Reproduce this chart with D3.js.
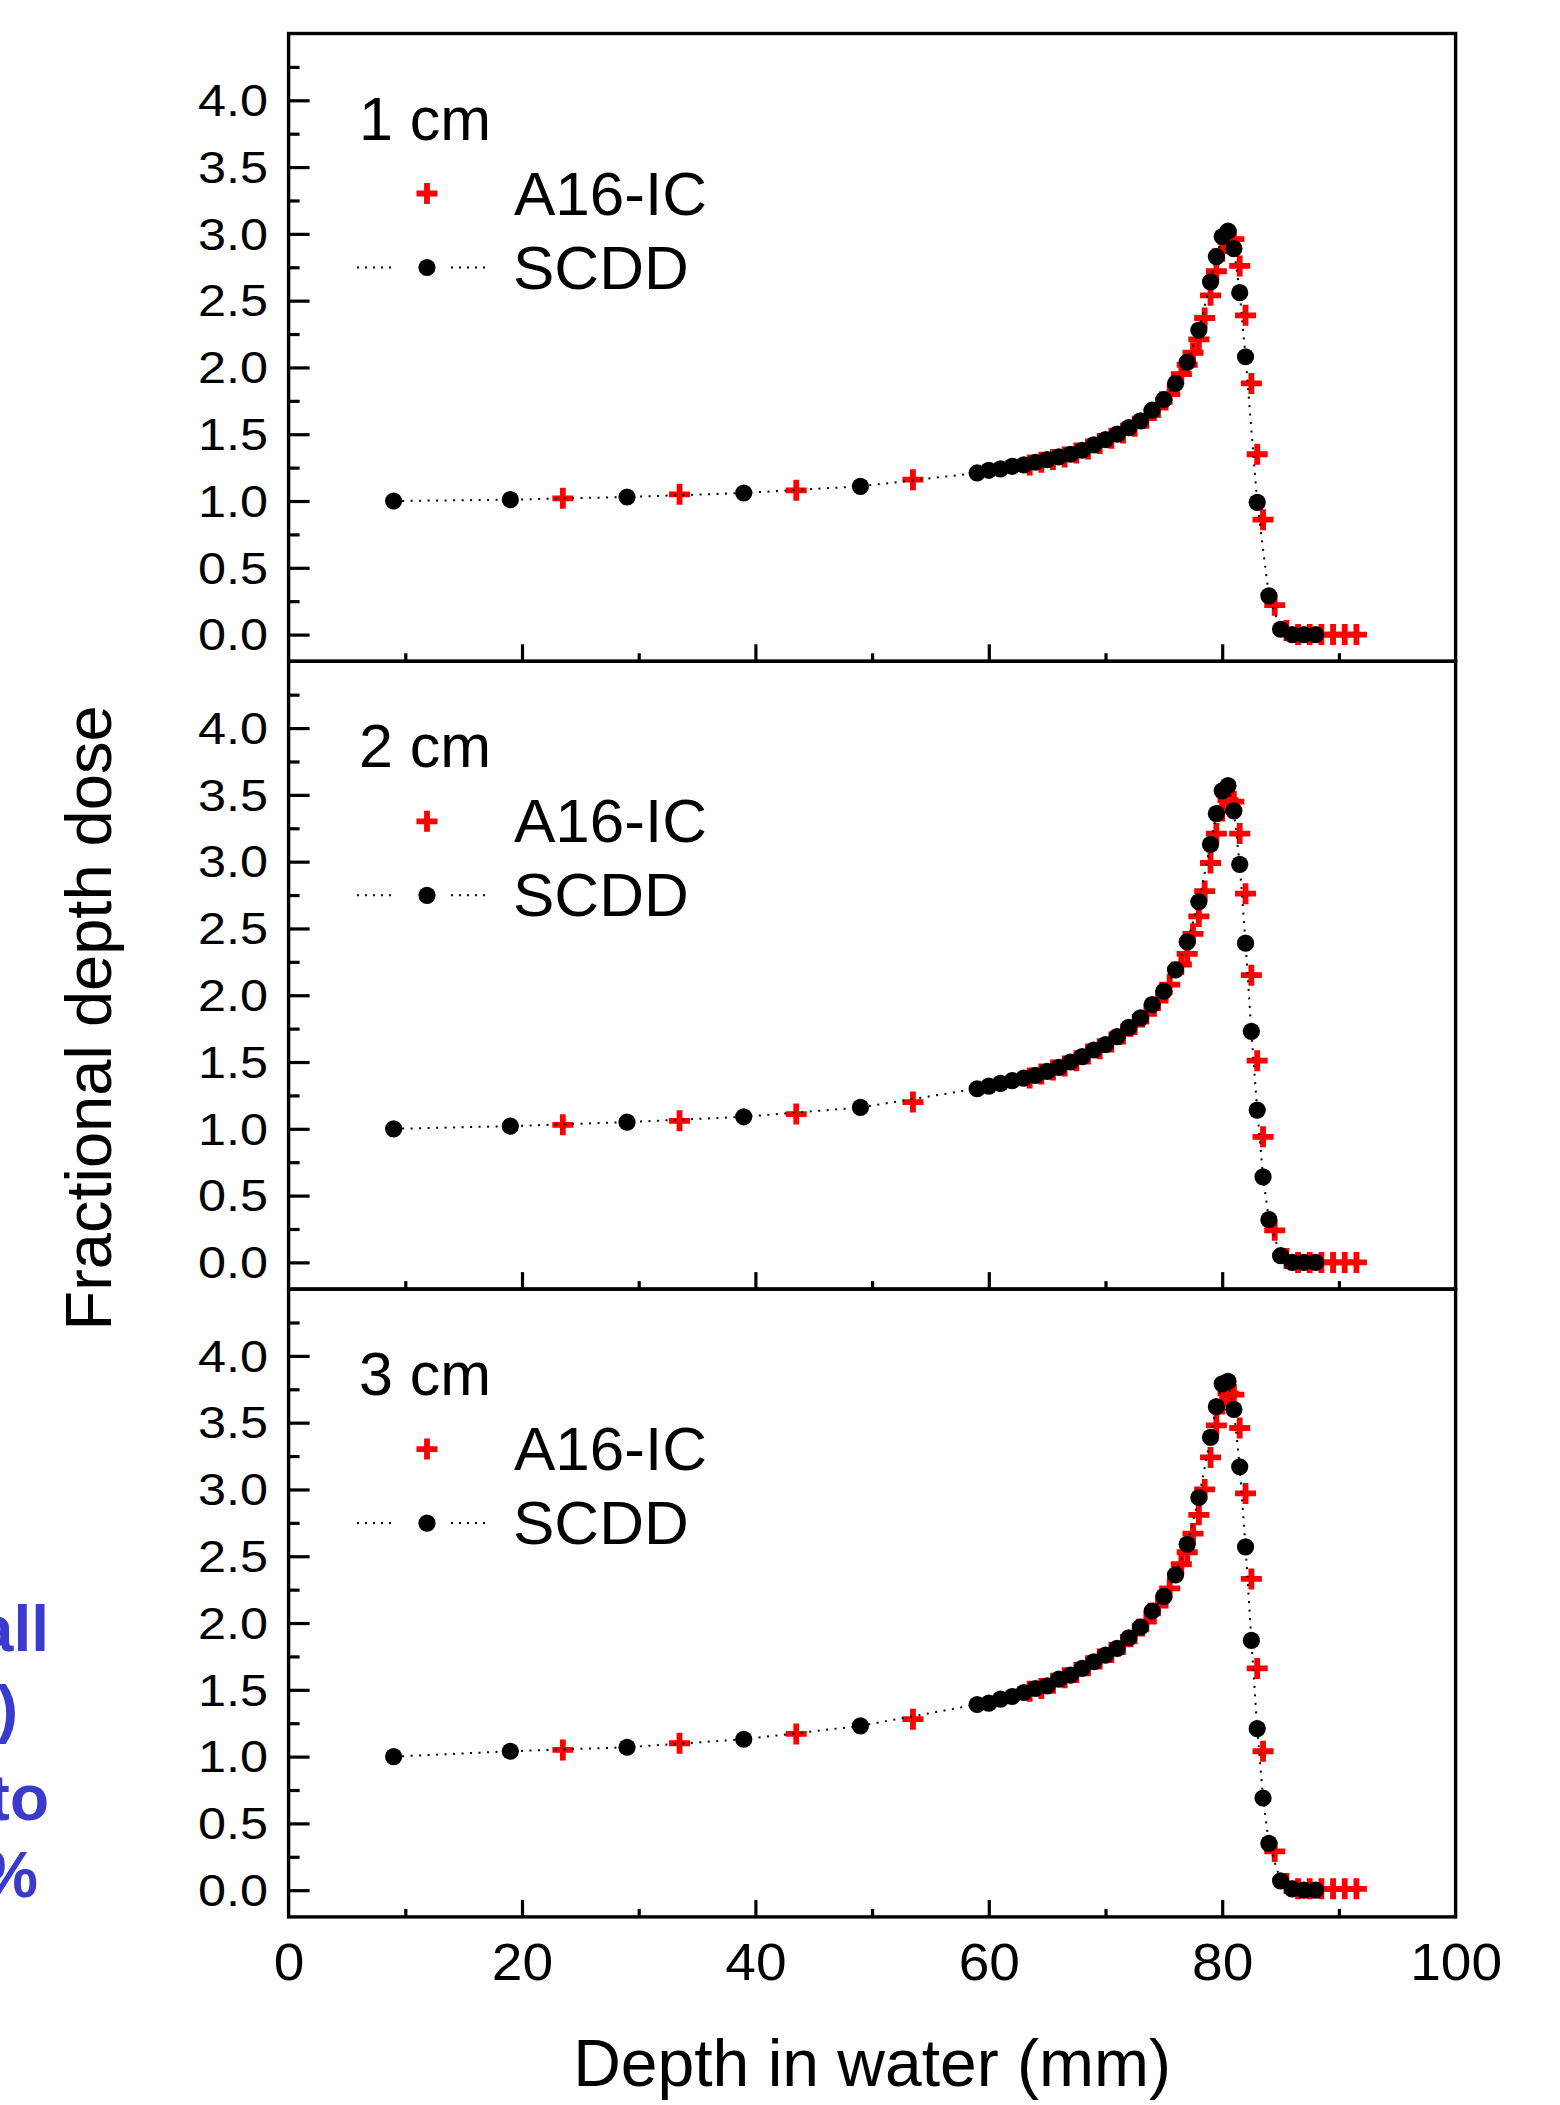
<!DOCTYPE html>
<html>
<head>
<meta charset="utf-8">
<script src="https://cdn.jsdelivr.net/npm/d3@7/dist/d3.min.js"></script>
<style>
  body { margin: 0; background: #ffffff; }
  svg { display: block; }
  text { font-family: "Liberation Sans", Arial, sans-serif; fill: #000; }
</style>
</head>
<body>
<svg id="chart" width="1560" height="2105"></svg>
<script>
// ---------------- data ----------------
const panelLabels = ["1 cm", "2 cm", "3 cm"];
const seriesNames = ["A16-IC", "SCDD"];
const xTickValues = [0, 20, 40, 60, 80, 100];
const xMinorTicks = [10, 30, 50, 70, 90];
const yTickValues = [0, 0.5, 1.0, 1.5, 2.0, 2.5, 3.0, 3.5, 4.0];
const yMinorTicks = [0.25, 0.75, 1.25, 1.75, 2.25, 2.75, 3.25, 3.75, 4.25];
const xTitle = "Depth in water (mm)";
const yTitle = "Fractional depth dose";
const sideFragments = ["all", ")", "to", "%"];

// SCDD, 1 cm
const scddDepth1 = [9, 19, 29, 39, 49, 59, 60, 61, 62, 63, 64, 65, 66, 67, 68, 69, 70, 71, 72, 73, 74, 75, 76, 77, 78, 79, 79.5, 80, 80.5, 81, 81.5, 82, 83, 84, 85, 86, 87, 88];
const scddDose1  = [1.00, 1.01, 1.03, 1.06, 1.11, 1.21, 1.23, 1.24, 1.26, 1.27, 1.29, 1.31, 1.33, 1.35, 1.38, 1.42, 1.46, 1.50, 1.55, 1.60, 1.68, 1.76, 1.88, 2.04, 2.28, 2.64, 2.83, 2.98, 3.02, 2.89, 2.56, 2.08, 0.99, 0.29, 0.04, 0.00, 0.00, 0.00];
// A16-IC, 1 cm
const a16Depth1 = [23.5, 33.5, 43.5, 53.5, 63.5, 64.5, 65.5, 66.5, 67.5, 68.5, 69.5, 70.5, 71.5, 72.5, 73.5, 74.5, 75.5, 76.5, 77, 77.5, 78, 78.5, 79, 79.5, 80, 80.5, 81, 81.5, 82, 82.5, 83, 83.5, 84.5, 85.5, 86.5, 87.5, 88.5, 89.5, 90.5, 91.5];
const a16Dose1  = [1.02, 1.05, 1.08, 1.16, 1.27, 1.29, 1.31, 1.33, 1.36, 1.39, 1.43, 1.47, 1.51, 1.56, 1.62, 1.70, 1.80, 1.95, 2.02, 2.11, 2.21, 2.37, 2.54, 2.72, 2.87, 2.94, 2.96, 2.76, 2.39, 1.88, 1.35, 0.86, 0.22, 0.03, 0.00, 0.00, 0.00, 0.00, 0.00, 0.00];

// SCDD, 2 cm
const scddDepth2 = [9, 19, 29, 39, 49, 59, 60, 61, 62, 63, 64, 65, 66, 67, 68, 69, 70, 71, 72, 73, 74, 75, 76, 77, 78, 79, 79.5, 80, 80.5, 81, 81.5, 82, 82.5, 83, 83.5, 84, 85, 86, 87, 88];
const scddDose2  = [1.00, 1.02, 1.05, 1.09, 1.16, 1.30, 1.32, 1.34, 1.36, 1.38, 1.40, 1.43, 1.46, 1.50, 1.54, 1.59, 1.63, 1.69, 1.76, 1.83, 1.93, 2.03, 2.19, 2.40, 2.70, 3.13, 3.36, 3.53, 3.57, 3.38, 2.98, 2.39, 1.73, 1.14, 0.64, 0.32, 0.05, 0.00, 0.00, 0.00];
// A16-IC, 2 cm
const a16Depth2 = [23.5, 33.5, 43.5, 53.5, 63.5, 64.5, 65.5, 66.5, 67.5, 68.5, 69.5, 70.5, 71.5, 72.5, 73.5, 74.5, 75.5, 76.5, 77, 77.5, 78, 78.5, 79, 79.5, 80, 80.5, 81, 81.5, 82, 82.5, 83, 83.5, 84.5, 85.5, 86.5, 87.5, 88.5, 89.5, 90.5, 91.5];
const a16Dose2  = [1.03, 1.06, 1.11, 1.20, 1.38, 1.41, 1.44, 1.47, 1.51, 1.56, 1.60, 1.65, 1.71, 1.78, 1.86, 1.96, 2.08, 2.23, 2.31, 2.46, 2.59, 2.78, 2.99, 3.21, 3.38, 3.46, 3.45, 3.21, 2.76, 2.15, 1.51, 0.94, 0.24, 0.03, 0.00, 0.00, 0.00, 0.00, 0.00, 0.00];

// SCDD, 3 cm
const scddDepth3 = [9, 19, 29, 39, 49, 59, 60, 61, 62, 63, 64, 65, 66, 67, 68, 69, 70, 71, 72, 73, 74, 75, 76, 77, 78, 79, 79.5, 80, 80.5, 81, 81.5, 82, 82.5, 83, 83.5, 84, 85, 86, 87, 88];
const scddDose3  = [1.00, 1.04, 1.07, 1.13, 1.23, 1.39, 1.40, 1.43, 1.45, 1.48, 1.51, 1.53, 1.58, 1.61, 1.66, 1.71, 1.76, 1.81, 1.89, 1.97, 2.09, 2.20, 2.36, 2.59, 2.94, 3.39, 3.62, 3.79, 3.81, 3.60, 3.17, 2.57, 1.87, 1.21, 0.69, 0.35, 0.07, 0.01, 0.00, 0.00];
// A16-IC, 3 cm
const a16Depth3 = [23.5, 33.5, 43.5, 53.5, 63.5, 64.5, 65.5, 66.5, 67.5, 68.5, 69.5, 70.5, 71.5, 72.5, 73.5, 74.5, 75.5, 76.5, 77, 77.5, 78, 78.5, 79, 79.5, 80, 80.5, 81, 81.5, 82, 82.5, 83, 83.5, 84.5, 85.5, 86.5, 87.5, 88.5, 89.5, 90.5, 91.5];
const a16Dose3  = [1.05, 1.10, 1.17, 1.28, 1.49, 1.51, 1.55, 1.59, 1.63, 1.68, 1.73, 1.78, 1.84, 1.92, 2.01, 2.13, 2.26, 2.44, 2.53, 2.67, 2.81, 3.00, 3.24, 3.48, 3.64, 3.72, 3.71, 3.46, 2.97, 2.33, 1.66, 1.04, 0.29, 0.05, 0.01, 0.01, 0.01, 0.01, 0.01, 0.01];

// ---------------- build ----------------
const zip = (xs, ys) => xs.map((x, i) => ({ x, y: ys[i] }));
const panels = [
  { label: panelLabels[0], scdd: zip(scddDepth1, scddDose1), a16: zip(a16Depth1, a16Dose1) },
  { label: panelLabels[1], scdd: zip(scddDepth2, scddDose2), a16: zip(a16Depth2, a16Dose2) },
  { label: panelLabels[2], scdd: zip(scddDepth3, scddDose3), a16: zip(a16Depth3, a16Dose3) }
];

const svg = d3.select("#chart");
svg.append("rect").attr("width", 1560).attr("height", 2105).attr("fill", "#fff");

const plotLeft = 288.6, plotRight = 1455.6;
const panelTop0 = 33.5, panelH = 627.8;
const x = d3.scaleLinear().domain([0, 100]).range([plotLeft, plotRight]);

const crossPath = "M-10.5,0H10.5M0,-10.5V10.5";
const RED = "#ff0000";
const DOT_R = 8.6;

panels.forEach((p, i) => {
  const top = panelTop0 + i * panelH;
  const bottom = top + panelH;
  const y = d3.scaleLinear().domain([-0.2, 4.5]).range([bottom, top]);
  const g = svg.append("g");

  // y axis: major ticks with labels
  const yAx = g.append("g").attr("transform", `translate(${plotLeft},0)`)
    .call(d3.axisLeft(y).tickValues(yTickValues).tickSize(-21).tickPadding(0).tickFormat(d3.format(".1f")));
  yAx.select(".domain").remove();
  yAx.selectAll(".tick line").attr("stroke", "#000").attr("stroke-width", 3.2);
  yAx.selectAll(".tick text")
    .attr("font-size", 45).attr("font-family", "Liberation Sans, Arial, sans-serif")
    .attr("x", -20.5 / 1.12).attr("dy", "0.34em")
    .attr("transform", "scale(1.12,1)");
  // y axis: minor
  const yMin = g.append("g").attr("transform", `translate(${plotLeft},0)`)
    .call(d3.axisLeft(y).tickValues(yMinorTicks).tickSize(-11).tickFormat(""));
  yMin.select(".domain").remove();
  yMin.selectAll(".tick line").attr("stroke", "#000").attr("stroke-width", 3.2);

  // x axis ticks (inward)
  const xAx = g.append("g").attr("transform", `translate(0,${bottom})`)
    .call(d3.axisBottom(x).tickValues([20, 40, 60, 80]).tickSize(-17).tickFormat(""));
  xAx.select(".domain").remove();
  xAx.selectAll(".tick line").attr("stroke", "#000").attr("stroke-width", 3.2);
  const xMin = g.append("g").attr("transform", `translate(0,${bottom})`)
    .call(d3.axisBottom(x).tickValues(xMinorTicks).tickSize(-8).tickFormat(""));
  xMin.select(".domain").remove();
  xMin.selectAll(".tick line").attr("stroke", "#000").attr("stroke-width", 3.2);

  if (i === panels.length - 1) {
    const xLab = g.append("g").attr("transform", `translate(0,${bottom})`)
      .call(d3.axisBottom(x).tickValues(xTickValues).tickSize(0).tickFormat(d3.format("d")));
    xLab.select(".domain").remove();
    xLab.selectAll(".tick text")
      .attr("font-size", 51).attr("font-family", "Liberation Sans, Arial, sans-serif")
      .attr("y", 63.5).attr("dy", null)
      .attr("transform", "scale(1.08,1)");
  }

  // A16-IC crosses
  g.append("g").selectAll("path").data(p.a16).join("path")
    .attr("d", crossPath)
    .attr("transform", d => `translate(${x(d.x)},${y(d.y)})`)
    .attr("stroke", RED).attr("stroke-width", 5.8).attr("fill", "none");

  // SCDD dotted line
  g.append("path").datum(p.scdd)
    .attr("d", d3.line().x(d => x(d.x)).y(d => y(d.y)))
    .attr("fill", "none").attr("stroke", "#000").attr("stroke-width", 2)
    .attr("stroke-dasharray", "2,6.5");

  // SCDD circles
  g.append("g").selectAll("circle").data(p.scdd).join("circle")
    .attr("cx", d => x(d.x)).attr("cy", d => y(d.y)).attr("r", DOT_R).attr("fill", "#000");

  // frame
  g.append("rect").attr("x", plotLeft).attr("y", top).attr("width", plotRight - plotLeft).attr("height", panelH)
    .attr("fill", "none").attr("stroke", "#000").attr("stroke-width", 3.4);

  // panel label and legend
  g.append("text").attr("x", 359).attr("y", top + 106).attr("font-size", 61).text(p.label);
  g.append("path").attr("d", crossPath)
    .attr("transform", `translate(427,${top + 160})`)
    .attr("stroke", RED).attr("stroke-width", 5.8).attr("fill", "none");
  g.append("text").attr("x", 514).attr("y", top + 181).attr("font-size", 62).text(seriesNames[0]);
  g.append("line").attr("x1", 357).attr("x2", 397).attr("y1", top + 234).attr("y2", top + 234)
    .attr("stroke", "#000").attr("stroke-width", 2).attr("stroke-dasharray", "2,6");
  g.append("line").attr("x1", 451).attr("x2", 491).attr("y1", top + 234).attr("y2", top + 234)
    .attr("stroke", "#000").attr("stroke-width", 2).attr("stroke-dasharray", "2,6");
  g.append("circle").attr("cx", 427).attr("cy", top + 234).attr("r", DOT_R).attr("fill", "#000");
  g.append("text").attr("x", 513).attr("y", top + 255).attr("font-size", 62).text(seriesNames[1]);
});

// axis titles
svg.append("text").attr("x", (plotLeft + plotRight) / 2).attr("y", 2086)
  .attr("text-anchor", "middle").attr("font-size", 66).text(xTitle);
svg.append("text").attr("transform", "translate(111,1018) rotate(-90)")
  .attr("text-anchor", "middle").attr("font-size", 65).text(yTitle);

// blue slide text fragments at the left edge (clipped by the page edge, as in the reference)
const fragX = [49, 18, 49, 38];
const fragY = [1651, 1731, 1820, 1897];
sideFragments.forEach((t, k) => {
  svg.append("text").attr("x", fragX[k]).attr("y", fragY[k])
    .attr("text-anchor", "end").attr("font-size", 64).attr("font-weight", "bold")
    .style("fill", "#3a3acc").text(t);
});
</script>
</body>
</html>
